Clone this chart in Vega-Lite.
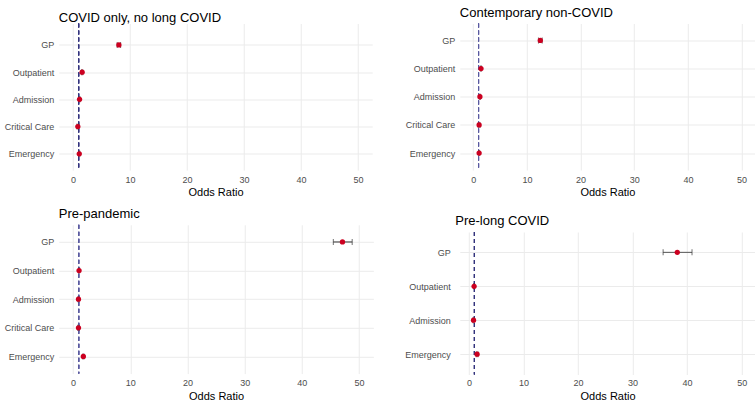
{
  "$schema": "https://vega.github.io/schema/vega-lite/v6.json",
  "padding": {"left": 3.75, "top": 6.5, "right": 0, "bottom": 0},
  "background": "white",
  "config": {
    "font": "Liberation Sans",
    "view": {"stroke": null},
    "title": {"fontSize": 13, "fontWeight": "normal", "anchor": "start", "frame": "group", "offset": 3.5, "color": "#000000", "font": "Liberation Sans"},
    "axis": {
      "labelFont": "Liberation Sans", "titleFont": "Liberation Sans",
      "labelFontSize": 9, "labelColor": "#4d4d4d",
      "titleFontSize": 11, "titleFontWeight": "normal", "titleColor": "#000000",
      "ticks": false, "tickSize": 0, "domain": false,
      "grid": true, "gridColor": "#ebebeb"
    }
  },
  "datasets": {
    "or": [
      {"panel": "p1", "cat": "GP", "or": 8.05, "lo": 7.75, "hi": 8.35},
      {"panel": "p1", "cat": "Outpatient", "or": 1.6, "lo": 1.5, "hi": 1.7},
      {"panel": "p1", "cat": "Admission", "or": 1.15, "lo": 1.05, "hi": 1.25},
      {"panel": "p1", "cat": "Critical Care", "or": 0.85, "lo": 0.7, "hi": 1.0},
      {"panel": "p1", "cat": "Emergency", "or": 1.1, "lo": 1.0, "hi": 1.2},
      {"panel": "p2", "cat": "GP", "or": 12.5, "lo": 12.15, "hi": 12.85},
      {"panel": "p2", "cat": "Outpatient", "or": 1.45, "lo": 1.35, "hi": 1.55},
      {"panel": "p2", "cat": "Admission", "or": 1.25, "lo": 1.15, "hi": 1.35},
      {"panel": "p2", "cat": "Critical Care", "or": 1.1, "lo": 0.95, "hi": 1.25},
      {"panel": "p2", "cat": "Emergency", "or": 1.1, "lo": 1.0, "hi": 1.2},
      {"panel": "p3", "cat": "GP", "or": 47.1, "lo": 45.5, "hi": 48.8},
      {"panel": "p3", "cat": "Outpatient", "or": 1.05, "lo": 0.95, "hi": 1.15},
      {"panel": "p3", "cat": "Admission", "or": 0.95, "lo": 0.85, "hi": 1.05},
      {"panel": "p3", "cat": "Critical Care", "or": 0.95, "lo": 0.8, "hi": 1.1},
      {"panel": "p3", "cat": "Emergency", "or": 1.8, "lo": 1.7, "hi": 1.9},
      {"panel": "p4", "cat": "GP", "or": 38.2, "lo": 35.6, "hi": 40.9},
      {"panel": "p4", "cat": "Outpatient", "or": 0.95, "lo": 0.85, "hi": 1.05},
      {"panel": "p4", "cat": "Admission", "or": 0.85, "lo": 0.75, "hi": 0.95},
      {"panel": "p4", "cat": "Emergency", "or": 1.5, "lo": 1.35, "hi": 1.65}
    ]
  },
  "hconcat": [
    {
      "vconcat": [
        {
          "title": {"text": "COVID only, no long COVID", "dy": 5},
          "width": 313.5, "height": 146.6,
          "data": {"name": "or"},
          "transform": [{"filter": "datum.panel === 'p1'"}],
          "encoding": {
            "y": {"field": "cat", "type": "nominal", "scale": {"type": "point", "padding": 0.6917, "align": 0.568, "domain": ["GP", "Outpatient", "Admission", "Critical Care", "Emergency"]}, "axis": {"title": null, "labelPadding": 5, "minExtent": 55, "maxExtent": 55}}
          },
          "layer": [
            {"mark": {"type": "rule", "strokeDash": [4, 3], "color": "#34347e", "strokeWidth": 1}, "encoding": {"x": {"datum": 1, "type": "quantitative", "scale": {"domain": [-2.5, 52.5], "nice": false, "zero": false}, "axis": {"title": "Odds Ratio", "values": [0, 5, 10, 15, 20, 25, 30, 35, 40, 45, 50], "labelExpr": "datum.value % 10 === 0 ? datum.label : ''", "labelPadding": 5, "titlePadding": 2, "gridWidth": {"condition": {"test": "datum.value % 10 === 0", "value": 1}, "value": 0.6}}}, "y": null}},
            {"mark": {"type": "rule", "color": "#333333", "strokeWidth": 1}, "encoding": {"x": {"field": "lo", "type": "quantitative"}, "x2": {"field": "hi"}}},
            {"mark": {"type": "tick", "color": "#333333", "size": 6, "thickness": 1}, "encoding": {"x": {"field": "lo", "type": "quantitative"}}},
            {"mark": {"type": "tick", "color": "#333333", "size": 6, "thickness": 1}, "encoding": {"x": {"field": "hi", "type": "quantitative"}}},
            {"mark": {"type": "point", "filled": true, "color": "#cc0020", "size": 28, "opacity": 1}, "encoding": {"x": {"field": "or", "type": "quantitative"}}}
          ]
        },
        {
          "title": "Pre-pandemic",
          "width": 314.6, "height": 148.8,
          "data": {"name": "or"},
          "transform": [{"filter": "datum.panel === 'p3'"}],
          "encoding": {
            "y": {"field": "cat", "type": "nominal", "scale": {"type": "point", "padding": 0.6, "domain": ["GP", "Outpatient", "Admission", "Critical Care", "Emergency"]}, "axis": {"title": null, "labelPadding": 5, "minExtent": 55, "maxExtent": 55}}
          },
          "layer": [
            {"mark": {"type": "rule", "strokeDash": [4, 3], "color": "#5a5aa0", "strokeWidth": 1}, "encoding": {"x": {"datum": 1, "type": "quantitative", "scale": {"domain": [-2.5, 52.5], "nice": false, "zero": false}, "axis": {"title": "Odds Ratio", "values": [0, 5, 10, 15, 20, 25, 30, 35, 40, 45, 50], "labelExpr": "datum.value % 10 === 0 ? datum.label : ''", "labelPadding": 5, "titlePadding": 2.5, "gridWidth": {"condition": {"test": "datum.value % 10 === 0", "value": 1}, "value": 0.6}}}, "y": null}},
            {"mark": {"type": "rule", "color": "#333333", "strokeWidth": 1}, "encoding": {"x": {"field": "lo", "type": "quantitative"}, "x2": {"field": "hi"}}},
            {"mark": {"type": "tick", "color": "#333333", "size": 6, "thickness": 1}, "encoding": {"x": {"field": "lo", "type": "quantitative"}}},
            {"mark": {"type": "tick", "color": "#333333", "size": 6, "thickness": 1}, "encoding": {"x": {"field": "hi", "type": "quantitative"}}},
            {"mark": {"type": "point", "filled": true, "color": "#cc0020", "size": 28, "opacity": 1}, "encoding": {"x": {"field": "or", "type": "quantitative"}}}
          ]
        }
      ],
      "spacing": 10.3
    },
    {
      "vconcat": [
        {
          "title": "Contemporary non-COVID",
          "width": 295.2, "height": 146.5,
          "data": {"name": "or"},
          "transform": [{"filter": "datum.panel === 'p2'"}],
          "encoding": {
            "y": {"field": "cat", "type": "nominal", "scale": {"type": "point", "padding": 0.6, "domain": ["GP", "Outpatient", "Admission", "Critical Care", "Emergency"]}, "axis": {"title": null, "labelPadding": 5, "minExtent": 59.5, "maxExtent": 59.5}}
          },
          "layer": [
            {"mark": {"type": "rule", "strokeDash": [4, 3], "color": "#5a5aa0", "strokeWidth": 1}, "encoding": {"x": {"datum": 1, "type": "quantitative", "scale": {"domain": [-2.5, 52.5], "nice": false, "zero": false}, "axis": {"title": "Odds Ratio", "values": [0, 5, 10, 15, 20, 25, 30, 35, 40, 45, 50], "labelExpr": "datum.value % 10 === 0 ? datum.label : ''", "labelPadding": 5, "titlePadding": 2, "gridWidth": {"condition": {"test": "datum.value % 10 === 0", "value": 1}, "value": 0.6}}}, "y": null}},
            {"mark": {"type": "rule", "color": "#333333", "strokeWidth": 1}, "encoding": {"x": {"field": "lo", "type": "quantitative"}, "x2": {"field": "hi"}}},
            {"mark": {"type": "tick", "color": "#333333", "size": 6, "thickness": 1}, "encoding": {"x": {"field": "lo", "type": "quantitative"}}},
            {"mark": {"type": "tick", "color": "#333333", "size": 6, "thickness": 1}, "encoding": {"x": {"field": "hi", "type": "quantitative"}}},
            {"mark": {"type": "point", "filled": true, "color": "#cc0020", "size": 28, "opacity": 1}, "encoding": {"x": {"field": "or", "type": "quantitative"}}}
          ]
        },
        {
          "title": {"text": "Pre-long COVID", "dx": -4.5},
          "width": 295.5, "height": 142.5,
          "data": {"name": "or"},
          "transform": [{"filter": "datum.panel === 'p4'"}],
          "encoding": {
            "y": {"field": "cat", "type": "nominal", "scale": {"type": "point", "padding": 0.6, "domain": ["GP", "Outpatient", "Admission", "Emergency"]}, "axis": {"title": null, "labelPadding": 9.6, "minExtent": 59.5, "maxExtent": 59.5}}
          },
          "layer": [
            {"mark": {"type": "rule", "strokeDash": [4, 3], "color": "#34347e", "strokeWidth": 1}, "encoding": {"x": {"datum": 1, "type": "quantitative", "scale": {"domain": [-1.67, 52.5], "nice": false, "zero": false}, "axis": {"title": "Odds Ratio", "values": [0, 5, 10, 15, 20, 25, 30, 35, 40, 45, 50], "labelExpr": "datum.value % 10 === 0 ? datum.label : ''", "labelPadding": 4, "titlePadding": 2.5, "gridWidth": {"condition": {"test": "datum.value % 10 === 0", "value": 1}, "value": 0.6}}}, "y": null}},
            {"mark": {"type": "rule", "color": "#555555", "strokeWidth": 1}, "encoding": {"x": {"field": "lo", "type": "quantitative"}, "x2": {"field": "hi"}}},
            {"mark": {"type": "tick", "color": "#333333", "size": 6, "thickness": 1}, "encoding": {"x": {"field": "lo", "type": "quantitative"}}},
            {"mark": {"type": "tick", "color": "#333333", "size": 6, "thickness": 1}, "encoding": {"x": {"field": "hi", "type": "quantitative"}}},
            {"mark": {"type": "point", "filled": true, "color": "#cc0020", "size": 28, "opacity": 1}, "encoding": {"x": {"field": "or", "type": "quantitative"}}}
          ]
        }
      ],
      "spacing": 17.5
    }
  ],
  "spacing": 26.05
}
